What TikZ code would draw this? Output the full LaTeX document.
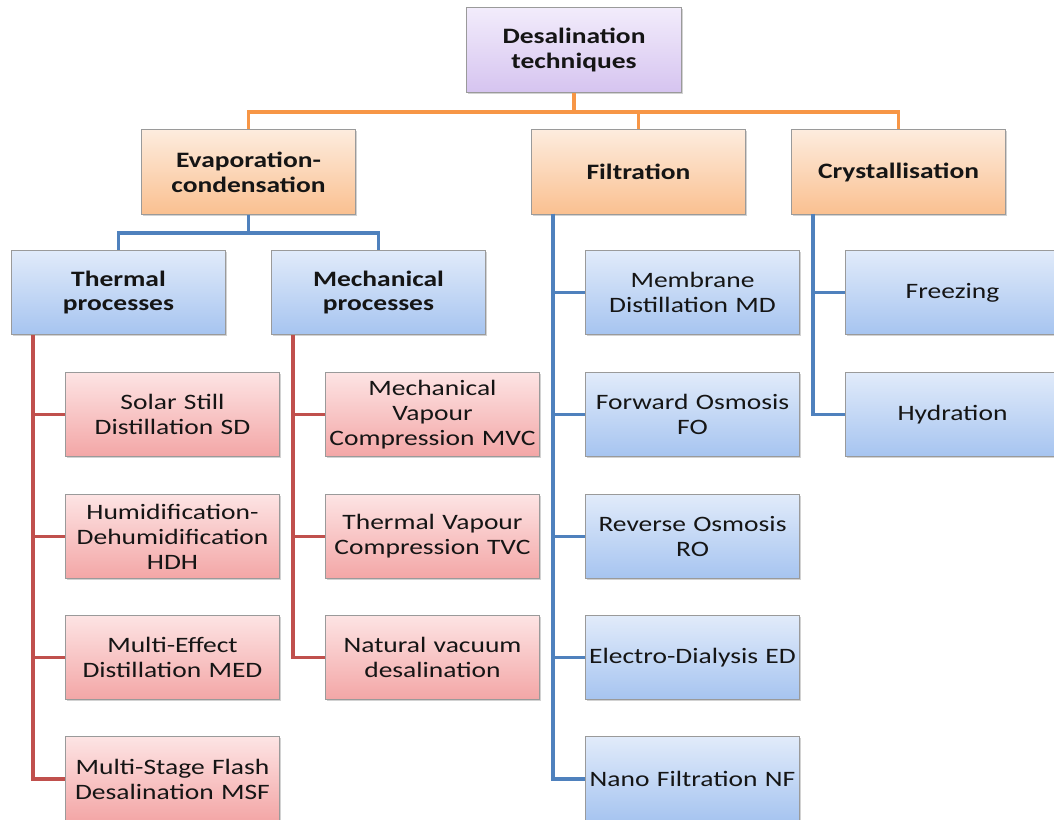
\documentclass[tikz,border=0pt]{standalone}
\usepackage{fontspec}
\setmainfont{Carlito}[FakeStretch=1.25]
\usetikzlibrary{shadows}
\definecolor{lnor}{HTML}{F79646}
\definecolor{lnbl}{HTML}{4F81BD}
\definecolor{lnrd}{HTML}{C0504D}
\definecolor{bdr}{HTML}{9A9A9A}
\definecolor{txt}{HTML}{151515}
\tikzset{
  box/.style={rectangle, draw=bdr, line width=0.6pt, inner xsep=0pt, text width=161pt, minimum height=63.5pt,
    align=center, text=txt, font=\fontsize{16.5}{18.7}\selectfont,
    drop shadow={opacity=0.35, shadow xshift=1.2pt, shadow yshift=-1.2pt}},
  purp/.style={box, top color={rgb,255:red,242;green,236;blue,251}, bottom color={rgb,255:red,214;green,196;blue,240}, font=\fontsize{16.5}{18.7}\selectfont\bfseries},
  oran/.style={box, top color={rgb,255:red,253;green,236;blue,222}, bottom color={rgb,255:red,250;green,192;blue,144}, font=\fontsize{16.5}{18.7}\selectfont\bfseries},
  blu/.style={box, top color={rgb,255:red,225;green,235;blue,250}, bottom color={rgb,255:red,166;green,196;blue,240}},
  blub/.style={blu, font=\fontsize{16.5}{18.7}\selectfont\bfseries},
  red/.style={box, top color={rgb,255:red,253;green,228;blue,228}, bottom color={rgb,255:red,243;green,166;blue,166}},
  conn/.style={line width=2.3pt},
}
\begin{document}
\begin{tikzpicture}[x=0.75pt,y=-0.75pt]
\useasboundingbox (0,0) rectangle (1054,820);
\clip (0,0) rectangle (1054,820);
\fill[white] (0,0) rectangle (1054,820);
% nodes
\node[purp] (top) at (574,50) {Desalination\\techniques};
\node[oran] (evap) at (248.5,172) {Evaporation-\\condensation};
\node[oran] (filt) at (638.5,172) {Filtration};
\node[oran] (cryst) at (898.5,172) {Crystallisation};
\node[blub] (therm) at (118.5,292.5) {Thermal\\processes};
\node[blub] (mech) at (378.5,292.5) {Mechanical\\processes};
\node[blu] (md) at (692.5,292.5) {Membrane\\Distillation MD};
\node[blu] (fo) at (692.5,414.5) {Forward Osmosis\\FO};
\node[blu] (ro) at (692.5,536.5) {Reverse Osmosis\\RO};
\node[blu] (ed) at (692.5,657.5) {Electro-Dialysis ED};
\node[blu] (nf) at (692.5,779) {Nano Filtration NF};
\node[blu] (frz) at (952.5,292.5) {Freezing};
\node[blu] (hyd) at (952.5,414.5) {Hydration};
\node[red] (sd) at (172.5,414.5) {Solar Still\\Distillation SD};
\node[red] (hdh) at (172.5,536.5) {Humidification-\\Dehumidification\\HDH};
\node[red] (med) at (172.5,657.5) {Multi-Effect\\Distillation MED};
\node[red] (msf) at (172.5,779) {Multi-Stage Flash\\Desalination MSF};
\node[red] (mvc) at (432.5,414.5) {Mechanical\\Vapour\\Compression MVC};
\node[red] (tvc) at (432.5,536.5) {Thermal Vapour\\Compression TVC};
\node[red] (nvd) at (432.5,657.5) {Natural vacuum\\desalination};
% junctions
\coordinate (j1) at (574,112);
\coordinate (j2) at (248.5,233);
\coordinate (tv) at (33,335);
\coordinate (mv) at (293,335);
\coordinate (fv) at (553,214);
\coordinate (cv) at (813,214);
% connectors
\draw[conn, lnor] (top.south) -- (j1);
\draw[conn, lnor] (j1) -| (evap.north);
\draw[conn, lnor] (j1) -| (filt.north);
\draw[conn, lnor] (j1) -| (cryst.north);
\draw[conn, lnbl] (evap.south) -- (j2);
\draw[conn, lnbl] (j2) -| (therm.north);
\draw[conn, lnbl] (j2) -| (mech.north);
\draw[conn, lnrd] (tv) |- (sd.west);
\draw[conn, lnrd] (tv) |- (hdh.west);
\draw[conn, lnrd] (tv) |- (med.west);
\draw[conn, lnrd] (tv) |- (msf.west);
\draw[conn, lnrd] (mv) |- (mvc.west);
\draw[conn, lnrd] (mv) |- (tvc.west);
\draw[conn, lnrd] (mv) |- (nvd.west);
\draw[conn, lnbl] (fv) |- (md.west);
\draw[conn, lnbl] (fv) |- (fo.west);
\draw[conn, lnbl] (fv) |- (ro.west);
\draw[conn, lnbl] (fv) |- (ed.west);
\draw[conn, lnbl] (fv) |- (nf.west);
\draw[conn, lnbl] (cv) |- (frz.west);
\draw[conn, lnbl] (cv) |- (hyd.west);
\end{tikzpicture}
\end{document}
